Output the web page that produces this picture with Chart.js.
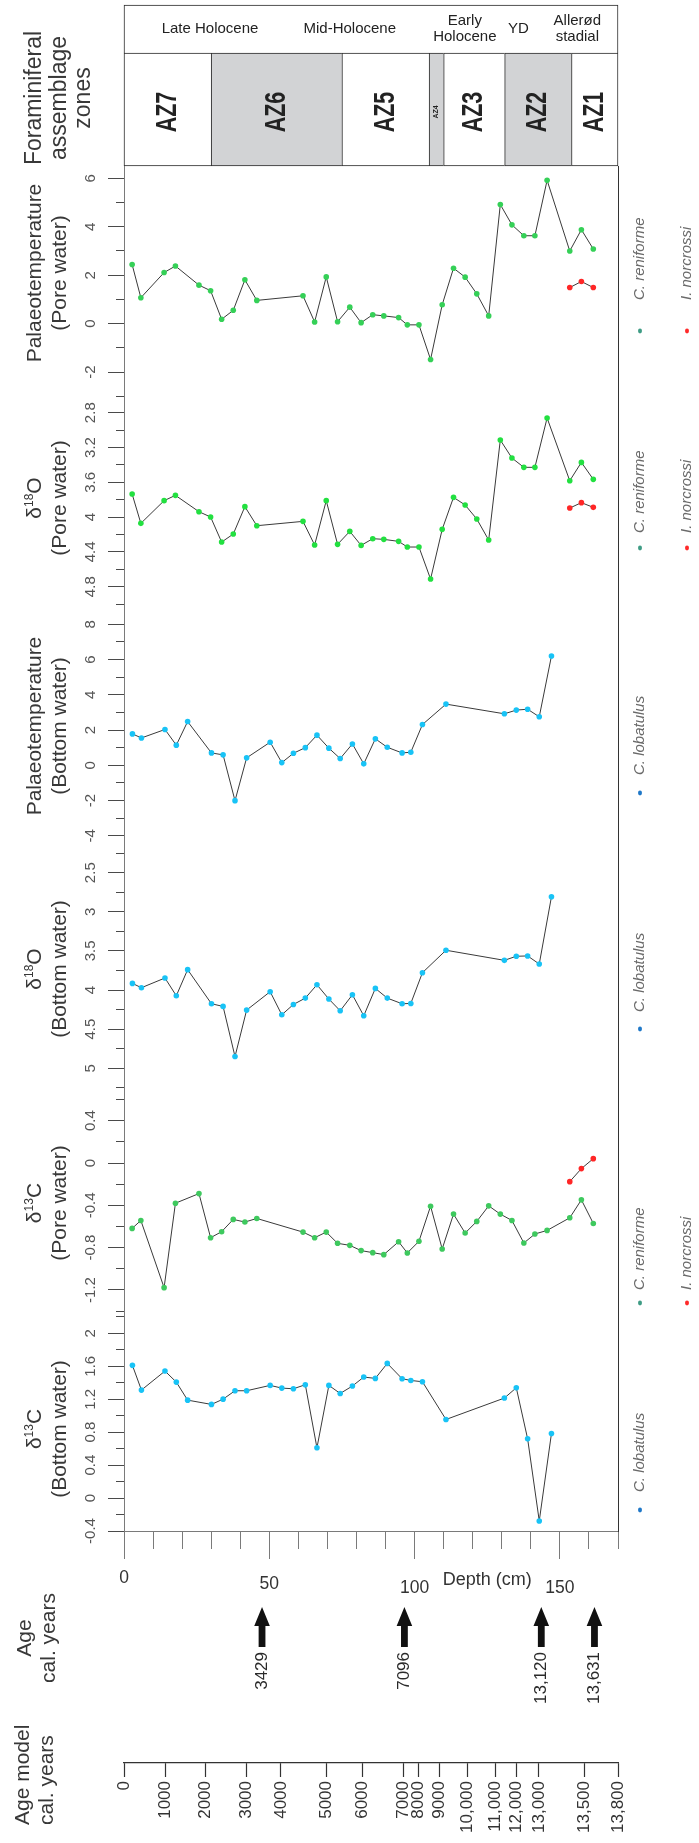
<!DOCTYPE html>
<html>
<head>
<meta charset="utf-8">
<script src="https://cdn.jsdelivr.net/npm/chart.js@4.4.0/dist/chart.umd.min.js"></script>
<style>
html, body { margin: 0; padding: 0; background: #fff; }
#fig { position: relative; width: 699px; height: 1843px; overflow: hidden; font-family: "Liberation Sans", Arial, sans-serif; color: #333; }
#fig canvas { position: absolute; left: 0; }
.vt { position: absolute; transform: translate(-50%, -50%) rotate(-90deg); white-space: nowrap; text-align: center; color: #383838; }
.vs { position: absolute; transform-origin: 0 0; transform: rotate(-90deg); white-space: nowrap; text-align: left; color: #383838; }
.vt sup { font-size: 12px; line-height: 0; vertical-align: 8px; }
</style>
</head>
<body>
<div id="fig"></div>
<script>
/***** data *****/
// depths (cm) of the samples
const PORE_DEPTH = [2.8,5.8,13.8,17.7,25.8,29.8,33.6,37.6,41.6,45.7,61.6,65.6,69.6,73.5,77.7,81.6,85.6,89.4,94.5,97.5,
  101.5,105.5,109.5,113.4,117.4,121.4,125.5,129.5,133.5,137.6,141.4,145.6,153.4,157.4,161.5];
const BOTTOM_DEPTH = [2.9,6.0,14.1,18.0,21.9,30.1,34.1,38.2,42.2,50.3,54.3,58.3,62.4,66.4,70.5,74.4,78.6,82.5,86.5,90.6,
  95.7,98.7,102.7,110.8,130.9,135.0,138.9,142.9,147.1];
const NORCROSSI_DEPTH = [153.4,157.4,161.5];

// C. reniforme / I. norcrossi (pore water)
const tempPoreReniforme = [2.44,1.07,2.11,2.38,1.59,1.36,0.18,0.55,1.81,0.96,1.15,0.07,1.93,0.08,0.68,0.04,0.37,0.32,0.25,-0.05,
  -0.05,-1.48,0.78,2.29,1.92,1.23,0.32,4.92,4.08,3.63,3.63,5.92,3.0,3.88,3.08];
const tempPoreNorcrossi = [1.49,1.74,1.49];
const d18OPoreReniforme = [3.735,4.072,3.811,3.75,3.938,3.999,4.287,4.195,3.88,4.099,4.049,4.321,3.811,4.313,4.164,4.325,4.248,4.256,4.279,4.344,
  4.344,4.712,4.141,3.773,3.861,4.022,4.264,3.114,3.321,3.428,3.428,2.861,3.582,3.371,3.566];
const d18OPoreNorcrossi = [3.896,3.834,3.888];
const d13CPoreReniforme = [-0.618,-0.543,-1.178,-0.38,-0.289,-0.706,-0.649,-0.533,-0.558,-0.524,-0.653,-0.706,-0.653,-0.759,-0.778,-0.828,-0.847,-0.866,-0.744,-0.85,
  -0.74,-0.408,-0.812,-0.483,-0.662,-0.552,-0.405,-0.483,-0.543,-0.756,-0.671,-0.637,-0.518,-0.348,-0.571];
const d13CPoreNorcrossi = [-0.176,-0.053,0.041];

// C. lobatulus (bottom water)
const tempBottomLobatulus = [1.78,1.55,2.03,1.14,2.48,0.7,0.59,-2.01,0.42,1.31,0.15,0.68,1.0,1.71,0.97,0.38,1.21,0.08,1.5,1.02,
  0.7,0.74,2.31,3.47,2.92,3.13,3.18,2.75,6.2];
const d18OBottomLobatulus = [3.915,3.97,3.846,4.073,3.739,4.175,4.209,4.85,4.256,4.021,4.316,4.184,4.103,3.932,4.115,4.265,4.06,4.329,3.979,4.103,
  4.175,4.171,3.778,3.491,3.62,3.568,3.564,3.667,2.807];
const d13CBottomLobatulus = [1.611,1.311,1.542,1.408,1.189,1.137,1.201,1.303,1.303,1.368,1.335,1.327,1.376,0.61,1.368,1.27,1.36,1.469,1.453,1.635,
  1.449,1.428,1.412,0.954,1.214,1.339,0.719,-0.278,0.784];

// zones
const zoneNames = ["AZ7","AZ6","AZ5","AZ4","AZ3","AZ2","AZ1"];
const zoneStart = [0,30,75,105,110,131,154];
const zoneEnd = [30,75,105,110,131,154,170];
const zoneShaded = [false,true,false,true,false,true,false];
const periodNames = [["Late Holocene"],["Mid-Holocene"],["Early","Holocene"],["YD"],["Allerød","stadial"]];
const periodCentre = [29.6,77.7,117.3,135.7,156];

// ages
const ageArrowDepth = [47.5,96.5,143.6,161.9];
const ageArrowLabel = ["3429","7096","13,120","13,631"];
const ageModelDepth = [0,14.3,28.1,42.1,54,69.7,82,96.1,101.3,108.5,118.1,127.7,134.9,142.8,158.5,170];
const ageModelLabel = ["0","1000","2000","3000","4000","5000","6000","7000","8000","9000","10,000","11,000","12,000","13,000","13,500","13,800"];

/***** layout *****/
const W = 699, LEFT = 124, RIGHT = 618;
const FONT = '"Liberation Sans", Arial, Helvetica, sans-serif';
Chart.defaults.font.family = FONT;
Chart.defaults.color = "#444";
const fig = document.getElementById("fig");

const GREEN1 = "#35d057", GREEN2 = "#22e040", GREEN3 = "#3ec95e", CYAN = "#18c3f6", RED = "#ff2626";
const LEG_REN = { text: "C. reniforme", dot: "#3f9c85", x: 640 };
const LEG_NOR = { text: "I. norcrossi", dot: "#ff2a2a", x: 687 };
const LEG_LOB = { text: "C. lobatulus", dot: "#1f78c8", x: 640 };

function addCanvas(top, height){
  const c = document.createElement("canvas");
  c.width = W; c.height = height;
  c.style.top = top + "px"; c.style.width = W + "px"; c.style.height = height + "px";
  fig.appendChild(c);
  return c;
}
function vCentred(html, cx, cy, size, lh){
  const d = document.createElement("div");
  d.className = "vt";
  d.style.left = cx + "px"; d.style.top = cy + "px";
  d.style.fontSize = size + "px"; d.style.lineHeight = lh + "px";
  d.innerHTML = html;
  fig.appendChild(d);
}
function vStart(html, x0, y0, size, lh){
  const d = document.createElement("div");
  d.className = "vs";
  d.style.left = x0 + "px"; d.style.top = y0 + "px";
  d.style.fontSize = size + "px"; d.style.lineHeight = lh + "px";
  d.innerHTML = html;
  fig.appendChild(d);
}
function rotText(ctx, text, x, y, align){
  ctx.save();
  ctx.translate(x, y);
  ctx.rotate(-Math.PI / 2);
  ctx.textAlign = align;
  ctx.textBaseline = "middle";
  ctx.fillText(text, 0, 0);
  ctx.restore();
}
const fmt = v => String(Math.round(v * 100) / 100);
const measurer = document.createElement("canvas").getContext("2d");

/***** plugins *****/
Chart.register({
  id: "sideLegend",
  afterDraw(chart, args, opts){
    if(!opts.items) return;
    const ctx = chart.ctx, top = chart.chartArea.top;
    opts.items.forEach(it => {
      ctx.save();
      ctx.fillStyle = it.dot;
      ctx.beginPath();
      ctx.ellipse(it.x, top + opts.dotY, 2, 2.4, 0, 0, Math.PI * 2);
      ctx.fill();
      ctx.fillStyle = "#6a6a6a";
      ctx.font = "italic 15px " + FONT;
      rotText(ctx, it.text, it.x, top + opts.textY, "left");
      ctx.restore();
    });
  }
});

Chart.register({
  id: "depthLabels",
  afterDraw(chart, args, opts){
    if(!opts.items) return;
    const ctx = chart.ctx, x = chart.scales.x, b = chart.chartArea.bottom;
    ctx.save();
    ctx.fillStyle = "#333";
    ctx.textAlign = "center";
    ctx.textBaseline = "alphabetic";
    ctx.font = "17.5px " + FONT;
    opts.items.forEach(it => ctx.fillText(fmt(it.v), x.getPixelForValue(it.v), b + it.dy));
    ctx.font = "18px " + FONT;
    ctx.fillText(opts.title.text, x.getPixelForValue(opts.title.v), b + opts.title.dy);
    ctx.restore();
  }
});

Chart.register({
  id: "ageArrows",
  afterDraw(chart, args, opts){
    if(!opts.on) return;
    const ctx = chart.ctx, x = chart.scales.x, t = chart.chartArea.top;
    ctx.save();
    ageArrowDepth.forEach((d, i) => {
      const px = x.getPixelForValue(d);
      ctx.fillStyle = "#111";
      ctx.beginPath();
      ctx.moveTo(px, t + 17);
      ctx.lineTo(px + 7.8, t + 36);
      ctx.lineTo(px + 3.4, t + 36);
      ctx.lineTo(px + 3.4, t + 57);
      ctx.lineTo(px - 3.4, t + 57);
      ctx.lineTo(px - 3.4, t + 36);
      ctx.lineTo(px - 7.8, t + 36);
      ctx.closePath();
      ctx.fill();
      ctx.fillStyle = "#2a2a2a";
      ctx.font = "17px " + FONT;
      rotText(ctx, ageArrowLabel[i], px, t + 62, "right");
    });
    ctx.restore();
  }
});

Chart.register({
  id: "boxLabels",
  afterDraw(chart, args, opts){
    if(!opts.kind) return;
    const ctx = chart.ctx, x = chart.scales.x, a = chart.chartArea;
    const cy = (a.top + a.bottom) / 2;
    ctx.save();
    ctx.fillStyle = "#222";
    if(opts.kind === "period"){
      ctx.font = "15px " + FONT;
      ctx.textAlign = "center";
      ctx.textBaseline = "middle";
      periodNames.forEach((lines, i) => {
        const px = x.getPixelForValue(periodCentre[i]);
        lines.forEach((ln, k) => ctx.fillText(ln, px, cy + (k - (lines.length - 1) / 2) * 15.5));
      });
    } else {
      zoneNames.forEach((nm, i) => {
        const px = x.getPixelForValue((zoneStart[i] + zoneEnd[i]) / 2);
        const small = zoneEnd[i] - zoneStart[i] < 8;
        ctx.save();
        ctx.translate(px, cy + 2.5);
        ctx.rotate(-Math.PI / 2);
        ctx.scale(small ? 1 : 0.74, 1);
        ctx.font = "bold " + (small ? 7 : 29) + "px " + FONT;
        ctx.textAlign = "center";
        ctx.textBaseline = "middle";
        ctx.fillText(nm, 0, 0);
        ctx.restore();
      });
    }
    ctx.restore();
  }
});

const baseOpts = () => ({
  responsive: false, animation: false, events: [], devicePixelRatio: 1,
  plugins: { legend: { display: false }, tooltip: { enabled: false } }
});

/***** zone box *****/
function makeBox(top, bottom, data, colours, widths, kind){
  const pad = 4;
  const c = addCanvas(top - pad, bottom - top + 2 * pad);
  const o = baseOpts();
  o.indexAxis = "y";
  o.layout = { padding: { top: pad, bottom: pad, left: LEFT, right: W - RIGHT } };
  o.scales = {
    x: { type: "linear", min: 0, max: 170, display: false },
    y: { type: "category", display: false }
  };
  o.plugins.boxLabels = { kind };
  new Chart(c, {
    type: "bar",
    data: { labels: ["r"], datasets: [{
      data, backgroundColor: colours, borderColor: "#2a2a2a", borderWidth: widths,
      borderSkipped: false, barPercentage: 1, categoryPercentage: 1, clip: false
    }] },
    options: o
  });
}
makeBox(5, 53, [{ x: [0, 170], y: "r" }], ["#fff"], [{ left: 1, right: 1, top: 1, bottom: 0 }], "period");
makeBox(53, 166,
  zoneStart.map((s, i) => ({ x: [s, zoneEnd[i]], y: "r" })),
  zoneShaded.map(s => s ? "#d2d3d5" : "#fff"),
  zoneStart.map((s, i) => ({ left: 1, top: 1, bottom: 1, right: i === zoneStart.length - 1 ? 1 : 0 })),
  "zone");

/***** data panels *****/
function makePanel(p){
  const padT = 24, padB = p.padB || 24, xh = p.depthAxis ? 30 : 0;
  const H = padT + (p.bottom - p.top) + xh + padB;
  const c = addCanvas(p.top - padT, H);
  const isMajor = v => { const k = (v - p.labelBase) / p.labelStep; return Math.abs(k - Math.round(k)) < 1e-6; };

  // widest tick label, used to centre the rotated labels
  measurer.font = "15px " + FONT;
  let widest = 0;
  for(let k = Math.ceil(p.min / p.step - 1e-9); k <= Math.floor(p.max / p.step + 1e-9); k++){
    const v = Math.round(k * p.step * 1000) / 1000;
    if(isMajor(v)) widest = Math.max(widest, measurer.measureText(fmt(v)).width);
  }

  const o = baseOpts();
  o.layout = { padding: { top: padT, bottom: padB, left: 0, right: W - RIGHT } };
  o.scales = {
    x: p.depthAxis ? {
      type: "linear", min: 0, max: 170, position: "bottom",
      afterFit: s => { s.height = xh; s.paddingLeft = 0; s.paddingRight = 0; },
      ticks: { display: false, stepSize: 10, includeBounds: false, autoSkip: false, maxTicksLimit: 1000 },
      grid: { drawOnChartArea: false, tickLength: 28, tickColor: "#7a7a7a", tickWidth: 1,
        tickBorderDash: ctx => (ctx.tick && Math.round(ctx.tick.value) % 50 !== 0) ? [17, 100] : [] },
      border: { display: true, color: "#7a7a7a", width: 1 }
    } : { type: "linear", min: 0, max: 170, display: false },
    y: {
      type: "linear", position: "left", min: p.min, max: p.max, reverse: !!p.reverse,
      afterFit: s => { s.width = LEFT; s.paddingTop = 0; s.paddingBottom = 0; },
      ticks: {
        stepSize: p.step, includeBounds: false, autoSkip: false, maxTicksLimit: 1000,
        minRotation: 90, maxRotation: 90, crossAlign: "center",
        padding: Math.max(0, 17.5 - widest / 2), color: "#555", font: { size: 15 },
        callback: v => isMajor(v) ? fmt(v) : ""
      },
      grid: { drawOnChartArea: false, tickLength: 16, tickColor: "#4a4a4a", tickWidth: 1,
        tickBorderDash: ctx => (ctx.tick && !isMajor(ctx.tick.value)) ? [0, 8, 8, 100] : [] },
      border: { display: true, color: "#7a7a7a", width: 1 }
    },
    y2: {
      type: "linear", position: "right", display: true,
      afterFit: s => { s.width = 0; s.paddingTop = 0; s.paddingBottom = 0; },
      ticks: { display: false }, grid: { display: false, drawTicks: false },
      border: { display: true, color: "#333", width: 1 }
    }
  };
  o.plugins.sideLegend = p.legend;
  if(p.depthAxis) o.plugins.depthLabels = p.depthAxis;

  new Chart(c, {
    type: "line",
    data: { datasets: p.series.map(s => ({
      data: s.depth.map((d, i) => ({ x: d, y: s.values[i] })),
      borderColor: "#3a3a3a", borderWidth: 1, tension: 0,
      pointRadius: 2.8, pointBorderWidth: 0, pointBackgroundColor: s.color
    })) },
    options: o
  });
}

const panels = [
  { top: 166, bottom: 405, min: -3.36, max: 6.51, step: 1, labelStep: 2, labelBase: 0,
    series: [{ depth: PORE_DEPTH, values: tempPoreReniforme, color: GREEN1 }, { depth: NORCROSSI_DEPTH, values: tempPoreNorcrossi, color: RED }],
    legend: { dotY: 165, textY: 134, items: [LEG_REN, LEG_NOR] } },
  { top: 405, bottom: 612, min: 2.7115, max: 5.0908, reverse: true, step: 0.2, labelStep: 0.4, labelBase: 2.8,
    series: [{ depth: PORE_DEPTH, values: d18OPoreReniforme, color: GREEN2 }, { depth: NORCROSSI_DEPTH, values: d18OPoreNorcrossi, color: RED }],
    legend: { dotY: 143, textY: 128, items: [LEG_REN, LEG_NOR] } },
  { top: 612, bottom: 852, min: -4.923, max: 8.698, step: 1, labelStep: 2, labelBase: 0,
    series: [{ depth: BOTTOM_DEPTH, values: tempBottomLobatulus, color: CYAN }],
    legend: { dotY: 181, textY: 163, items: [LEG_LOB] } },
  { top: 852, bottom: 1090, min: 2.2354, max: 5.2774, reverse: true, step: 0.25, labelStep: 0.5, labelBase: 2.5,
    series: [{ depth: BOTTOM_DEPTH, values: d18OBottomLobatulus, color: CYAN }],
    legend: { dotY: 177, textY: 160, items: [LEG_LOB] } },
  { top: 1090, bottom: 1314, min: -1.427, max: 0.69, step: 0.2, labelStep: 0.4, labelBase: 0.4,
    series: [{ depth: PORE_DEPTH, values: d13CPoreReniforme, color: GREEN3 }, { depth: NORCROSSI_DEPTH, values: d13CPoreNorcrossi, color: RED }],
    legend: { dotY: 213, textY: 200, items: [LEG_REN, LEG_NOR] } },
  { top: 1314, bottom: 1531, min: -0.4, max: 2.2347, step: 0.2, labelStep: 0.4, labelBase: 2, padB: 40,
    series: [{ depth: BOTTOM_DEPTH, values: d13CBottomLobatulus, color: CYAN }],
    legend: { dotY: 196, textY: 178, items: [LEG_LOB] },
    depthAxis: { items: [{ v: 0, dy: 52 }, { v: 50, dy: 58 }, { v: 100, dy: 61.5 }, { v: 150, dy: 61.5 }],
      title: { text: "Depth (cm)", v: 125, dy: 54 } } }
];
panels.forEach(makePanel);

/***** age arrows + age model axis *****/
(function(){
  const top = 1590, H = 1843 - top, axisY = 1763;
  const c = addCanvas(top, H);
  const o = baseOpts();
  o.layout = { padding: { top: 0, bottom: 0, left: LEFT, right: W - RIGHT } };
  o.scales = {
    x: {
      type: "linear", min: 0, max: 170, position: "bottom",
      afterBuildTicks: s => { s.ticks = ageModelDepth.map(v => ({ value: v })); },
      afterFit: s => { s.height = H - (axisY - top); s.paddingLeft = 0; s.paddingRight = 0; },
      ticks: { autoSkip: false, minRotation: 90, maxRotation: 90, padding: 4, color: "#333", font: { size: 17 },
        callback: (v, i) => ageModelLabel[i] },
      grid: { drawOnChartArea: false, tickLength: 14, tickColor: "#333", tickWidth: 1.2 },
      border: { display: true, color: "#333", width: 1.2 }
    },
    y: { display: false }
  };
  o.plugins.ageArrows = { on: true };
  new Chart(c, { type: "line", data: { datasets: [] }, options: o });
})();

/***** titles *****/
vCentred("Foraminiferal<br>assemblage<br>zones", 57.5, 98, 23, 24.5);
vCentred("Palaeotemperature<br>(Pore water)", 45.5, 273, 21, 25);
vCentred("δ<sup>18</sup>O<br>(Pore water)", 45.5, 498, 21, 25);
vCentred("Palaeotemperature<br>(Bottom water)", 45.5, 726, 21, 25);
vCentred("δ<sup>18</sup>O<br>(Bottom water)", 45.5, 969, 21, 25);
vCentred("δ<sup>13</sup>C<br>(Pore water)", 45.5, 1203, 21, 25);
vCentred("δ<sup>13</sup>C<br>(Bottom water)", 45.5, 1429, 21, 25);
vCentred("Age<br>cal. years", 36, 1637.5, 21, 24.4);
vStart("Age model<br>cal. years", 10, 1825, 21, 24.4);
</script>
</body>
</html>
